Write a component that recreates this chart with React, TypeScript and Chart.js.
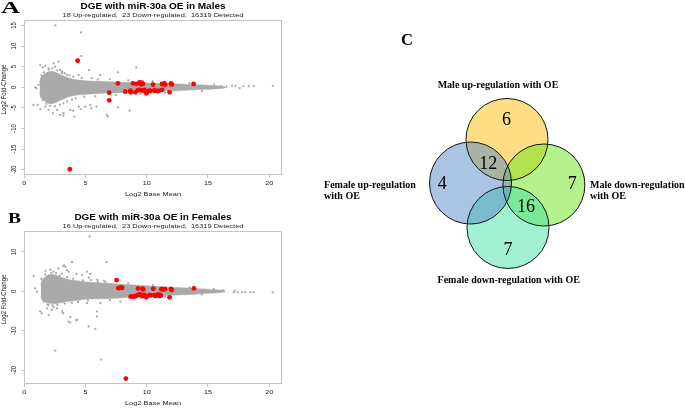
import { useEffect, useRef } from "react";
import { Chart, registerables } from "chart.js";
Chart.register(...registerables);

// ================= DATA =================
const xTicks = [0, 5, 10, 15, 20];
const maleYTicks = [-20, -15, -10, -5, 0, 5, 10, 15];
const femaleYTicks = [-20, -10, 0, 10];

const maleTitle = "DGE with miR-30a OE in Males";
const maleSubtitle = "18 Up-regulated,  23 Down-regulated,  16319 Detected";
const femaleTitle = "DGE with miR-30a OE in Females";
const femaleSubtitle = "16 Up-regulated,  23 Down-regulated,  16319 Detected";
const xAxisTitle = "Log2 Base Mean";
const yAxisTitle = "Log2 Fold-Change";

// dense cloud of detected genes (envelope)
const maleBandX = [1.25, 1.35, 1.6, 1.9, 2.2, 2.6, 3.0, 3.4, 3.8, 4.3, 5.0, 6.0, 7.0, 8.0, 9.0, 10.0, 11.0, 12.0, 13.0, 14.0, 15.0, 15.8, 16.4];
const maleBandUpper = [1.2, 2.4, 3.1, 3.7, 3.9, 3.6, 3.0, 2.5, 2.1, 1.8, 1.6, 1.45, 1.35, 1.25, 1.15, 1.05, 0.95, 0.85, 0.75, 0.6, 0.5, 0.35, 0.15];
const maleBandLower = [-1.3, -2.5, -3.2, -3.8, -4.0, -3.7, -3.1, -2.6, -2.2, -1.9, -1.7, -1.5, -1.4, -1.3, -1.2, -1.1, -1.0, -0.9, -0.75, -0.6, -0.5, -0.35, -0.15];

const maleGrey: [number, number][] = [
  [2.54, 15.0], [4.64, 13.3], [4.67, 7.6], [2.8, 6.2], [9.15, 4.8], [1.31, 5.4], [1.53, 4.8], [1.72, 5.2], [1.99, 4.6],
  [2.4, 5.8], [2.53, 5.0], [2.94, 4.2], [3.08, 3.4], [3.5, 3.0], [4.44, 3.0], [5.3, 4.2], [6.2, 3.0], [7.65, 3.6],
  [6.0, 1.9], [0.9, 0.0], [1.17, 0.6], [1.0, -0.3], [0.76, -4.3], [1.09, -4.3], [1.31, -5.3], [1.72, -4.7], [1.99, -5.5],
  [2.34, -6.3], [2.67, -5.5], [2.94, -6.7], [3.21, -6.3], [3.76, -5.5], [4.08, -7.1], [4.98, -4.7], [5.4, -4.3], [5.9, -4.7],
  [6.75, -6.7], [7.65, -4.9], [8.6, -5.7], [6.83, -7.1], [4.45, -4.7], [4.6, -5.3], [3.2, -6.9], [4.0, -5.7], [5.47, -5.1],
  [1.4, 2.9], [1.5, -3.1], [2.0, 4.3], [2.1, -4.5], [2.7, 4.1], [2.9, -4.2], [3.3, 3.4], [3.5, -3.4], [4.0, 2.6], [4.2, -2.7],
  [1.6, 3.6], [1.8, -4.0], [2.3, 4.6], [2.5, -4.6], [3.1, 3.8], [3.2, -3.9], [3.7, 2.9], [3.9, -3.0], [4.7, 2.2], [4.9, -2.3],
  [5.5, 2.2], [5.8, -2.2], [7.0, 2.0], [7.5, -1.9], [8.5, 1.7], [9.5, -1.6], [10.5, 1.4], [11.5, -1.3], [13.5, 1.0], [14.5, -0.9],
  [15.5, 0.7], [16.1, 0.3], [16.5, 0.1], [16.97, 0.4], [17.24, 0.35], [17.59, -0.2], [17.92, 0.3], [18.33, 0.25], [18.74, 0.3], [20.3, 0.35],
];
const maleUp: [number, number][] = [
  [4.36, 6.46], [7.65, 0.97], [8.88, 0.97], [9.15, 0.81], [9.42, 1.21], [9.53, 0.73], [9.7, 0.81], [10.51, 0.65], [11.25, 0.81],
  [11.44, 0.97], [11.52, 0.65], [11.98, 0.97], [12.06, 0.65], [13.83, 0.81], [9.45, 1.0], [9.6, 1.1], [11.35, 0.75], [12.0, 0.8],
];
const maleDown: [number, number][] = [
  [3.72, -19.9], [6.94, -1.3], [6.94, -3.16], [8.25, -1.06], [8.66, -0.82], [8.69, -1.23], [9.07, -1.23], [9.37, -0.65],
  [9.67, -0.82], [9.97, -1.46], [9.8, -0.65], [10.2, -0.82], [10.7, -0.82], [10.9, -0.9], [11.25, -0.65], [11.87, -1.23],
  [9.5, -0.7], [10.0, -1.2], [10.3, -0.9], [10.6, -0.8], [11.0, -0.85], [8.7, -1.0], [9.25, -0.75],
];

const femaleBandX = [1.35, 1.45, 1.8, 2.1, 2.5, 3.0, 3.5, 4.0, 4.5, 5.0, 6.0, 7.0, 8.0, 9.0, 10.0, 11.0, 12.0, 13.0, 14.0, 15.0, 15.8, 16.4];
const femaleBandUpper = [1.5, 2.8, 3.9, 4.3, 4.2, 3.6, 3.1, 2.8, 2.6, 2.4, 2.2, 2.0, 1.8, 1.6, 1.4, 1.2, 1.05, 0.9, 0.75, 0.55, 0.4, 0.15];
const femaleBandLower = [-1.3, -2.2, -2.8, -3.0, -3.1, -2.9, -2.6, -2.4, -2.2, -2.0, -1.9, -1.8, -1.6, -1.45, -1.3, -1.15, -1.0, -0.85, -0.7, -0.5, -0.35, -0.15];

const femaleGrey: [number, number][] = [
  [5.33, 13.95], [3.9, 7.4], [6.72, 7.4], [3.17, 6.4], [3.25, 6.6], [0.77, 3.9], [0.9, 0.75], [1.04, -0.1], [1.31, -5.1],
  [1.44, -5.6], [1.85, -4.3], [1.99, -3.5], [2.26, -4.7], [2.67, -4.3], [3.08, -5.1], [3.16, -5.55], [3.62, -7.7], [3.76, -7.9],
  [4.25, -7.3], [4.3, -7.2], [5.26, -8.9], [5.8, -9.5], [5.94, -6.4], [2.0, -6.0], [2.4, -4.0], [3.77, -6.55], [2.54, -15.0],
  [6.26, -17.3], [1.72, 5.2], [2.13, 5.5], [2.4, 5.0], [2.8, 5.8], [3.36, 6.2], [3.63, 5.0], [4.26, 4.4], [5.14, 5.0],
  [5.27, 3.5], [5.96, 3.0], [6.5, 2.7], [3.08, 4.5], [3.49, 5.4], [4.71, 4.1], [5.39, 4.4], [5.47, 2.85], [6.62, 2.4],
  [5.12, -3.0], [6.21, -3.0], [7.0, -2.2], [7.84, -2.6], [5.94, -5.1],
  [1.4, 3.2], [1.6, -2.6], [2.2, 4.7], [2.3, -3.5], [2.9, 4.0], [3.3, -3.1], [4.0, 3.2], [4.4, -2.7], [6.0, 2.5], [8.5, 2.0],
  [1.7, 4.3], [1.9, -3.3], [2.6, 4.6], [2.7, -3.4], [3.5, 3.6], [3.9, -2.9], [4.8, 2.8], [5.2, -2.3],
  [9.5, -1.7], [10.5, 1.6], [11.5, -1.3], [13.5, 1.0], [14.5, -0.8], [15.5, 0.6],
  [16.2, 0.3], [17.1, -0.25], [17.2, 0.17], [17.43, -0.25], [17.79, -0.25], [18.06, -0.25], [18.46, -0.25], [18.73, -0.2], [20.29, -0.25],
];
const femaleUp: [number, number][] = [
  [7.54, 2.85], [7.68, 0.83], [7.8, 0.85], [7.93, 0.98], [8.0, 0.9], [9.29, 0.74], [9.65, 0.66], [9.72, 0.5], [10.54, 0.66],
  [11.2, 0.55], [11.25, 0.6], [11.35, 0.5], [11.5, 0.55], [11.98, 0.6], [12.05, 0.35], [13.86, 0.74],
];
const femaleDown: [number, number][] = [
  [8.3, -22.1], [8.69, -1.35], [8.85, -1.3], [9.01, -1.35], [9.15, -1.1], [9.26, -0.93], [9.42, -0.76], [9.5, -0.95],
  [9.6, -0.9], [9.7, -1.2], [9.8, -0.9], [9.97, -1.5], [10.0, -1.2], [10.24, -0.93], [10.35, -1.0], [10.62, -0.93],
  [10.7, -1.2], [10.8, -1.1], [10.95, -0.8], [11.05, -1.2], [11.1, -0.9], [11.15, -1.1], [11.87, -1.5],
];

// Venn diagram: sets (drawing order) and region counts
const vennSetLabels: string[][] = [
  ["Male up-regulation with OE"],
  ["Male down-regulation", "with OE"],
  ["Female down-regulation with OE"],
  ["Female up-regulation", "with OE"],
];
const vennCounts = [6, 12, 4, 7, 16, 7];

// ================= LAYOUT / STYLE =================
const SANS = '"Liberation Sans", Arial, sans-serif';
const SERIF = '"Liberation Serif", "Times New Roman", serif';
const SX = 1.2; // horizontal stretch of the source image text
const GREY = "#a9a9a9";
const RED = "#ff0000";

// Venn geometry in units of circle radius
const VENN_W = 385, VENN_H = 300;
const vennXMin = -5.049, vennXMax = 4.341, vennYMin = -3.317, vennYMax = 4.0;
const vennRadiusPx = VENN_W / (vennXMax - vennXMin);
const vennCenters: [number, number][] = [[0, 1.085], [0.9, -0.024], [0.024, -1.06], [-0.89, 0.024]];
const vennFill = ["rgba(253,189,5,0.5)", "rgba(105,229,25,0.5)", "rgba(65,225,165,0.5)", "rgba(85,137,201,0.5)"];
const vennCountPos: [number, number][] = [[-0.01, 1.544], [-0.456, 0.488], [-1.578, -0.007], [1.593, -0.007], [0.463, -0.578], [0.024, -1.61]];
const vennLabelPos: { x: number; y: number; align: CanvasTextAlign }[] = [
  { x: -0.22, y: 2.4, align: "center" },
  { x: 2.024, y: -0.024, align: "left" },
  { x: 0.041, y: -2.34, align: "center" },
  { x: -4.463, y: -0.024, align: "left" },
];

function txt(ctx: CanvasRenderingContext2D, s: string, x: number, y: number, font: string,
  o: { rot?: boolean; align?: CanvasTextAlign; sx?: number; color?: string } = {}) {
  ctx.save();
  ctx.translate(x, y);
  ctx.scale(o.sx ?? 1, 1);
  if (o.rot) ctx.rotate(-Math.PI / 2);
  ctx.font = font;
  ctx.fillStyle = o.color ?? "#111";
  ctx.textAlign = o.align ?? "center";
  ctx.textBaseline = "middle";
  ctx.fillText(s, 0, 0);
  ctx.restore();
}

const maDecor = {
  id: "maDecor",
  afterDraw(chart: any, _a: any, o: any) {
    const { ctx, chartArea: a } = chart;
    const xs = chart.scales.x, ys = chart.scales.y;
    ctx.save();
    ctx.strokeStyle = "#c4c4c4";
    ctx.lineWidth = 1;
    const l = Math.round(a.left) + 0.5, t = Math.round(a.top) + 0.5;
    ctx.strokeRect(l, t, Math.round(a.right) - Math.round(a.left) - 1, Math.round(a.bottom) - Math.round(a.top) - 1);
    ctx.restore();
    for (const tk of xs.ticks) txt(ctx, String(tk.value), xs.getPixelForValue(tk.value), a.bottom + 8, `6px ${SANS}`, { sx: SX, color: "#222" });
    for (const tk of ys.ticks) txt(ctx, String(tk.value), 14, ys.getPixelForValue(tk.value), `6px ${SANS}`, { sx: SX, rot: true, color: "#222" });
    const cx = (a.left + a.right) / 2;
    txt(ctx, o.xTitle, cx, a.bottom + 19.5, `6.2px ${SANS}`, { sx: SX, color: "#222" });
    txt(ctx, o.yTitle, 4.5, (a.top + a.bottom) / 2 - 8, `6px ${SANS}`, { sx: SX, rot: true, color: "#222" });
    txt(ctx, o.title, cx, a.top - 13, `bold 8.3px ${SANS}`, { sx: SX, color: "#000" });
    txt(ctx, o.subtitle, cx, a.top - 4.5, `6.2px ${SANS}`, { sx: SX, color: "#222" });
  },
};

type MAProps = {
  top: number; height: number; padTop: number; yMin: number; yMax: number; yTicks: number[];
  bandX: number[]; bandUpper: number[]; bandLower: number[];
  grey: [number, number][]; up: [number, number][]; down: [number, number][];
  title: string; subtitle: string;
};

function MAPlot(p: MAProps) {
  const ref = useRef<HTMLCanvasElement>(null);
  useEffect(() => {
    const toXY = (arr: [number, number][]) => arr.map(([x, y]) => ({ x, y }));
    const chart = new Chart(ref.current!, {
      type: "scatter",
      data: {
        datasets: [
          {
            type: "line", data: p.bandX.map((x, i) => ({ x, y: p.bandUpper[i] })), fill: "+1",
            backgroundColor: GREY, borderColor: GREY, borderWidth: 0.5, pointRadius: 0, tension: 0.25, order: 4,
          } as any,
          {
            type: "line", data: p.bandX.map((x, i) => ({ x, y: p.bandLower[i] })), fill: false,
            backgroundColor: GREY, borderColor: GREY, borderWidth: 0.5, pointRadius: 0, tension: 0.25, order: 3,
          } as any,
          { data: toXY(p.grey), backgroundColor: GREY, borderWidth: 0, pointRadius: 1.15, order: 2 },
          { data: toXY(p.down), backgroundColor: RED, borderWidth: 0, pointRadius: 2.4, order: 1 },
          { data: toXY(p.up), backgroundColor: RED, borderWidth: 0, pointRadius: 2.4, order: 0 },
        ],
      },
      options: {
        responsive: false, animation: false, events: [], devicePixelRatio: 1,
        layout: { padding: { top: p.padTop, right: 8, left: 0, bottom: 0 } },
        scales: {
          x: {
            type: "linear", min: -0.02, max: 21.05,
            afterBuildTicks: (s: any) => { s.ticks = xTicks.map((v) => ({ value: v })); },
            afterFit: (s: any) => { s.height = 25; },
            ticks: { display: false },
            grid: { display: true, drawOnChartArea: false, drawTicks: true, tickLength: 3, color: "#c4c4c4" },
            border: { display: false },
          },
          y: {
            type: "linear", min: p.yMin, max: p.yMax,
            afterBuildTicks: (s: any) => { s.ticks = p.yTicks.map((v) => ({ value: v })); },
            afterFit: (s: any) => { s.width = 24; },
            ticks: { display: false },
            grid: { display: true, drawOnChartArea: false, drawTicks: true, tickLength: 3, color: "#c4c4c4" },
            border: { display: false },
          },
        },
        plugins: {
          legend: { display: false }, tooltip: { enabled: false },
          maDecor: { title: p.title, subtitle: p.subtitle, xTitle: xAxisTitle, yTitle: yAxisTitle },
        } as any,
      },
      plugins: [maDecor],
    });
    return () => chart.destroy();
  }, []);
  return <canvas ref={ref} width={290} height={p.height} style={{ position: "absolute", left: 0, top: p.top }} />;
}

const vennDecor = {
  id: "vennDecor",
  afterDatasetsDraw(chart: any) {
    const { ctx } = chart;
    const xs = chart.scales.x, ys = chart.scales.y;
    vennCounts.forEach((c, i) => {
      const [x, y] = vennCountPos[i];
      txt(ctx, String(c), xs.getPixelForValue(x), ys.getPixelForValue(y), `18px ${SERIF}`, { color: "#000" });
    });
    vennSetLabels.forEach((lines, i) => {
      const pos = vennLabelPos[i];
      lines.forEach((ln, j) => {
        txt(ctx, ln, xs.getPixelForValue(pos.x), ys.getPixelForValue(pos.y) + j * 11.7, `bold 10px ${SERIF}`, { align: pos.align, color: "#000" });
      });
    });
  },
};

function Venn() {
  const ref = useRef<HTMLCanvasElement>(null);
  useEffect(() => {
    const pts = () => vennCenters.map(([x, y]) => ({ x, y, r: vennRadiusPx }));
    const chart = new Chart(ref.current!, {
      type: "bubble",
      data: {
        datasets: [
          { data: pts(), backgroundColor: vennFill, borderColor: "rgba(0,0,0,0)", borderWidth: 0, order: 1, clip: false } as any,
          { data: pts(), backgroundColor: "rgba(0,0,0,0)", borderColor: "#111", borderWidth: 1, order: 0, clip: false } as any,
        ],
      },
      options: {
        responsive: false, animation: false, events: [], devicePixelRatio: 1,
        layout: { padding: 0, autoPadding: false },
        scales: {
          x: { type: "linear", display: false, min: vennXMin, max: vennXMax },
          y: { type: "linear", display: false, min: vennYMin, max: vennYMax },
        },
        plugins: { legend: { display: false }, tooltip: { enabled: false } },
      },
      plugins: [vennDecor],
    });
    return () => chart.destroy();
  }, []);
  return <canvas ref={ref} width={VENN_W} height={VENN_H} style={{ position: "absolute", left: 300, top: 20 }} />;
}

const letter = (left: number, top: number, size: number, sx: number): any => ({
  position: "absolute", left, top, fontFamily: SERIF, fontWeight: "bold", fontSize: size, lineHeight: 1,
  transform: `scaleX(${sx})`, transformOrigin: "left top", color: "#000",
});

export default function App() {
  return (
    <div style={{ position: "absolute", left: 0, top: 0, width: 685, height: 409, background: "#fff", overflow: "hidden" }}>
      <MAPlot top={0} height={200} padTop={20} yMin={-21.29} yMax={16.33} yTicks={maleYTicks}
        bandX={maleBandX} bandUpper={maleBandUpper} bandLower={maleBandLower}
        grey={maleGrey} up={maleUp} down={maleDown} title={maleTitle} subtitle={maleSubtitle} />
      <MAPlot top={200} height={209} padTop={31} yMin={-23.48} yMax={15.3} yTicks={femaleYTicks}
        bandX={femaleBandX} bandUpper={femaleBandUpper} bandLower={femaleBandLower}
        grey={femaleGrey} up={femaleUp} down={femaleDown} title={femaleTitle} subtitle={femaleSubtitle} />
      <Venn />
      <div style={letter(1, -1, 17, 1.55)}>A</div>
      <div style={letter(8, 210.7, 15, 1.3)}>B</div>
      <div style={letter(401, 32, 16.5, 1)}>C</div>
    </div>
  );
}
